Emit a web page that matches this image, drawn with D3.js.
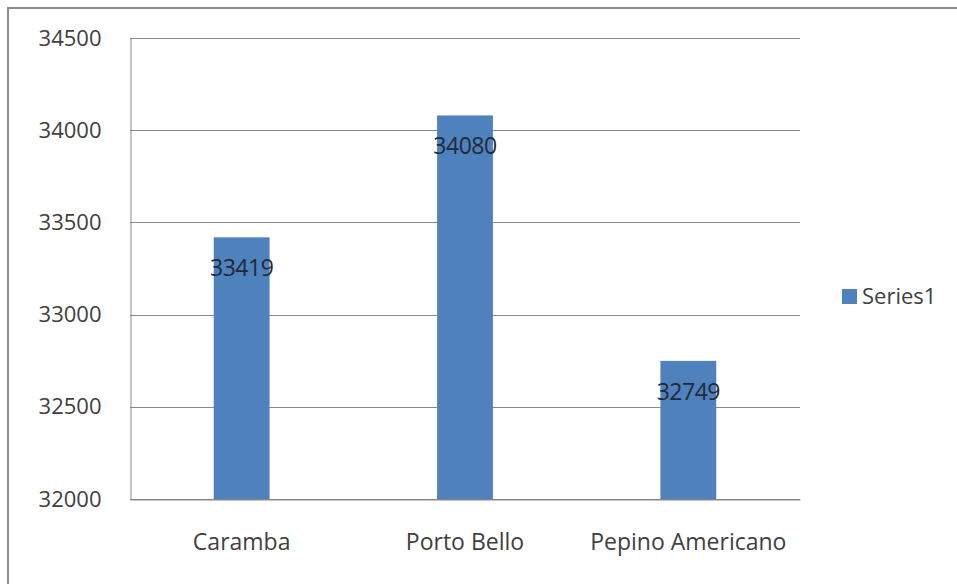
<!DOCTYPE html>
<html>
<head>
<meta charset="utf-8">
<script src="https://cdn.jsdelivr.net/npm/d3@7"></script>
<style>
  html, body { margin: 0; padding: 0; background: #fff; }
  svg { display: block; }
  text { font-family: "Open Sans", "Noto Sans", sans-serif; }
</style>
</head>
<body>
<svg id="chart" width="957" height="584"></svg>
<script>
// Chart data
const categories = ["Caramba", "Porto Bello", "Pepino Americano"];
const seriesName = "Series1";
const values = [33419, 34080, 32749];
const yTicks = [32000, 32500, 33000, 33500, 34000, 34500];

const svg = d3.select("#chart");
const W = 957, H = 584;
const plot = { left: 130, right: 800, top: 38, bottom: 499 };

// Outer chart frame (only top and left edges are visible)
svg.append("path")
  .attr("d", `M8,${H} L8,8 L${W},8`)
  .attr("fill", "none")
  .attr("stroke", "#8c8c8c")
  .attr("stroke-width", 2);

const x = d3.scaleBand()
  .domain(categories)
  .range([plot.left, plot.right])
  .paddingInner(0.75)
  .paddingOuter(0.375);

const y = d3.scaleLinear()
  .domain([32000, 34500])
  .range([plot.bottom, plot.top]);

// Horizontal gridlines
svg.append("g")
  .selectAll("line")
  .data(yTicks)
  .join("line")
  .attr("x1", plot.left)
  .attr("x2", plot.right)
  .attr("y1", d => Math.round(y(d)) + 0.5)
  .attr("y2", d => Math.round(y(d)) + 0.5)
  .attr("stroke", "#888")
  .attr("stroke-width", 1);

// Y axis
const yAxis = svg.append("g")
  .attr("transform", `translate(${plot.left + 0.5},0)`)
  .call(d3.axisLeft(y).tickValues(yTicks).tickSize(0).tickPadding(29).tickFormat(d3.format("d")));
yAxis.select(".domain").attr("stroke", "#888");
yAxis.selectAll("text")
  .attr("font-size", 22)
  .attr("fill", "#404040")
  .attr("font-family", "'Open Sans', sans-serif");

// Bars
svg.append("g")
  .selectAll("rect")
  .data(values)
  .join("rect")
  .attr("x", (d, i) => x(categories[i]))
  .attr("width", x.bandwidth())
  .attr("y", d => y(d))
  .attr("height", d => plot.bottom - y(d))
  .attr("fill", "#4f81bd");

// Value labels
svg.append("g")
  .selectAll("text")
  .data(values)
  .join("text")
  .attr("x", (d, i) => x(categories[i]) + x.bandwidth() / 2)
  .attr("y", d => y(d) + 39)
  .attr("text-anchor", "middle")
  .attr("font-size", 23)
  .attr("letter-spacing", -0.5)
  .attr("fill", "#1f2a3a")
  .text(d => d);

// X axis
const xAxis = svg.append("g")
  .attr("transform", `translate(0,${plot.bottom + 0.5})`)
  .call(d3.axisBottom(x).tickSize(0).tickPadding(34));
xAxis.select(".domain").attr("stroke", "#888");
xAxis.selectAll("text")
  .attr("font-size", 23)
  .attr("fill", "#404040")
  .attr("font-family", "'Open Sans', sans-serif");

// Legend
const legend = svg.append("g").attr("transform", "translate(842,289)");
legend.append("rect")
  .attr("width", 15).attr("height", 15)
  .attr("fill", "#4f81bd");
legend.append("text")
  .attr("x", 20).attr("y", 15)
  .attr("font-size", 22)
  .attr("fill", "#404040")
  .text(seriesName);
</script>
</body>
</html>
